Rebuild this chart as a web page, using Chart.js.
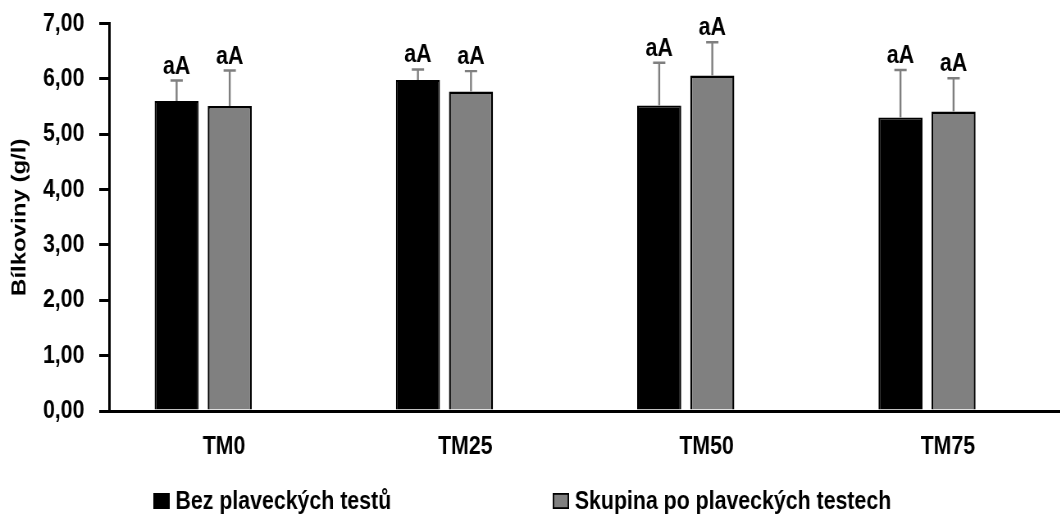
<!DOCTYPE html>
<html>
<head>
<meta charset="utf-8">
<title>Bílkoviny</title>
<script src="https://cdn.jsdelivr.net/npm/chart.js@4.4.1/dist/chart.umd.min.js"></script>
<style>
  html, body { margin: 0; padding: 0; background: #fff; overflow: hidden; width: 1060px; height: 515px; }
  /* the drawing is narrowed horizontally so Liberation Sans Bold reads like a narrow face */
  #wrap { position: absolute; left: 0; top: 0; width: 1320px; height: 515px;
          transform: scaleX(0.82); transform-origin: 0 0; }
</style>
</head>
<body>
<div id="wrap"><canvas id="c" width="1320" height="515"></canvas></div>
<script>
// Categories and series
const categories = ['TM0', 'TM25', 'TM50', 'TM75'];
const seriesNames = ['Bez plaveckých testů', 'Skupina po plaveckých testech'];

// Means (g/l)
const bezTestu = [5.60, 5.98, 5.52, 5.30];
const poTestech = [5.51, 5.77, 6.06, 5.41];

// Standard deviations (upper error bars)
const bezTestuSD = [0.37, 0.19, 0.77, 0.86];
const poTestechSD = [0.64, 0.37, 0.60, 0.60];

// Significance letters above the bars
const bezTestuLetters = ['aA', 'aA', 'aA', 'aA'];
const poTestechLetters = ['aA', 'aA', 'aA', 'aA'];

// Y axis ticks
const yTicks = [0, 1, 2, 3, 4, 5, 6, 7];

const FONT = "'Liberation Sans', Arial, sans-serif";

// Upper error bars plus letters
const errorBars = {
  id: 'errorBars',
  afterDatasetsDraw(chart) {
    const ctx = chart.ctx;
    const y = chart.scales.y;
    chart.data.datasets.forEach((ds, i) => {
      if (!ds.sd) return;
      const meta = chart.getDatasetMeta(i);
      meta.data.forEach((bar, j) => {
        const base = y.getPixelForValue(ds.data[j]);
        const top = y.getPixelForValue(ds.data[j] + ds.sd[j]);
        ctx.save();
        ctx.strokeStyle = '#7f7f7f';
        ctx.lineWidth = 2.4;
        ctx.beginPath();
        ctx.moveTo(bar.x, base);
        ctx.lineTo(bar.x, top);
        ctx.moveTo(bar.x - 7.5, top);
        ctx.lineTo(bar.x + 7.5, top);
        ctx.stroke();
        ctx.fillStyle = '#000';
        ctx.font = 'bold 26px ' + FONT;
        ctx.textAlign = 'center';
        ctx.textBaseline = 'alphabetic';
        ctx.fillText(ds.letters[j], bar.x, top - 7);
        ctx.restore();
      });
    });
  }
};

// Legend row under the axis
const bottomLegend = {
  id: 'bottomLegend',
  afterDraw(chart) {
    const ctx = chart.ctx;
    const starts = [187, 674];
    const cy = 501;
    ctx.save();
    ctx.font = 'bold 26px ' + FONT;
    ctx.textBaseline = 'middle';
    ctx.textAlign = 'left';
    seriesNames.forEach((name, i) => {
      const ds = chart.data.datasets[i];
      const x = starts[i];
      ctx.fillStyle = ds.backgroundColor;
      ctx.fillRect(x, cy - 8, 20, 16);
      ctx.strokeStyle = '#000';
      ctx.lineWidth = 1.8;
      ctx.strokeRect(x + 0.9, cy - 7.1, 18.2, 14.2);
      ctx.fillStyle = '#000';
      ctx.fillText(name, x + 27, cy + 1);
    });
    ctx.restore();
  }
};

new Chart(document.getElementById('c'), {
  type: 'bar',
  data: {
    labels: categories,
    datasets: [
      {
        label: seriesNames[0],
        data: bezTestu,
        sd: bezTestuSD,
        letters: bezTestuLetters,
        backgroundColor: '#000000',
        borderColor: '#000000',
        borderWidth: 2
      },
      {
        label: seriesNames[1],
        data: poTestech,
        sd: poTestechSD,
        letters: poTestechLetters,
        backgroundColor: '#808080',
        borderColor: '#000000',
        borderWidth: 2.4
      },
      {
        label: '',
        data: [null, null, null, null],
        backgroundColor: 'rgba(0,0,0,0)'
      }
    ]
  },
  options: {
    responsive: false,
    animation: false,
    devicePixelRatio: 1,
    categoryPercentage: 0.66,
    barPercentage: 0.83,
    layout: { padding: { top: 23.5, right: 10, bottom: 0, left: 0 } },
    plugins: {
      legend: { display: false },
      tooltip: { enabled: false }
    },
    scales: {
      x: {
        grid: { display: false },
        border: { display: true, color: '#000', width: 3 },
        ticks: { color: '#000', font: { family: FONT, size: 26, weight: 'bold' }, padding: 12, labelOffset: -7 },
        afterFit(s) { s.height = 104; s.paddingLeft = 0; s.paddingRight = 0; }
      },
      y: {
        min: 0,
        max: 7,
        afterBuildTicks(s) { s.ticks = yTicks.map(v => ({ value: v })); },
        ticks: {
          color: '#000',
          font: { family: FONT, size: 26, weight: 'bold' },
          padding: 18,
          callback: v => v.toFixed(2).replace('.', ',')
        },
        grid: { drawOnChartArea: false, drawTicks: true, tickLength: 12, color: '#000', lineWidth: 3 },
        border: { display: true, color: '#000', width: 3 },
        title: {
          display: true,
          text: 'Bílkoviny (g/l)',
          color: '#000',
          font: { family: FONT, size: 24, weight: 'bold' },
          padding: { top: 10, bottom: 0 }
        },
        afterFit(s) { s.width = 133; s.paddingTop = 0; s.paddingBottom = 0; }
      }
    }
  },
  plugins: [errorBars, bottomLegend]
});
</script>
</body>
</html>
